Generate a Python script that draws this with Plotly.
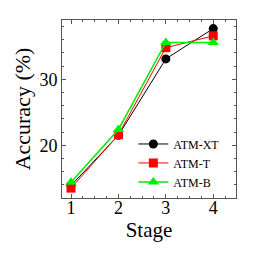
import plotly.graph_objects as go

stages = [1, 2, 3, 4]
atm_xt = [13.9, 21.5, 33.1, 37.7]
atm_t = [13.5, 21.6, 34.8, 36.6]
atm_b = [14.4, 22.4, 35.6, 35.6]

fig = go.Figure()
fig.add_trace(go.Scatter(x=stages, y=atm_xt, name="ATM-XT", mode="lines+markers",
                         line=dict(color="black", width=1), marker=dict(symbol="circle", size=9, color="black")))
fig.add_trace(go.Scatter(x=stages, y=atm_t, name="ATM-T", mode="lines+markers",
                         line=dict(color="red", width=1), marker=dict(symbol="square", size=9, color="red")))
fig.add_trace(go.Scatter(x=stages, y=atm_b, name="ATM-B", mode="lines+markers",
                         line=dict(color="#00ee00", width=1.5), marker=dict(symbol="triangle-up", size=10, color="#00ee00")))

axis_common = dict(showgrid=False, zeroline=False, showline=True, linecolor="#555555", linewidth=1,
                   mirror="allticks", ticks="inside", ticklen=4, tickcolor="#555555", automargin=False,
                   tickfont=dict(family="Liberation Serif", size=18, color="black"))
fig.update_xaxes(range=[0.81, 4.48], tickvals=stages, ticklabelstandoff=-7,
                 minor=dict(ticks="inside", ticklen=2, dtick=0.25, tick0=1, tickcolor="#555555"),
                 title=dict(text="Stage", font=dict(family="Liberation Serif", size=21, color="black"), standoff=0),
                 **axis_common)
fig.update_yaxes(range=[12, 39], tickvals=[20, 30],
                 minor=dict(ticks="inside", ticklen=2, dtick=2, tick0=0, tickcolor="#555555"),
                 title=dict(text="Accuracy (%)", font=dict(family="Liberation Serif", size=22, color="black"), standoff=2),
                 **axis_common)
fig.update_layout(width=251, height=251, margin=dict(l=54, r=23, t=12, b=61),
                  paper_bgcolor="white", plot_bgcolor="white",
                  legend=dict(x=0.41, y=0.385, xanchor="left", yanchor="top", bgcolor="rgba(0,0,0,0)",
                              font=dict(family="Liberation Serif", size=12, color="black"),
                              tracegroupgap=0))
fig.write_html("out.html")
